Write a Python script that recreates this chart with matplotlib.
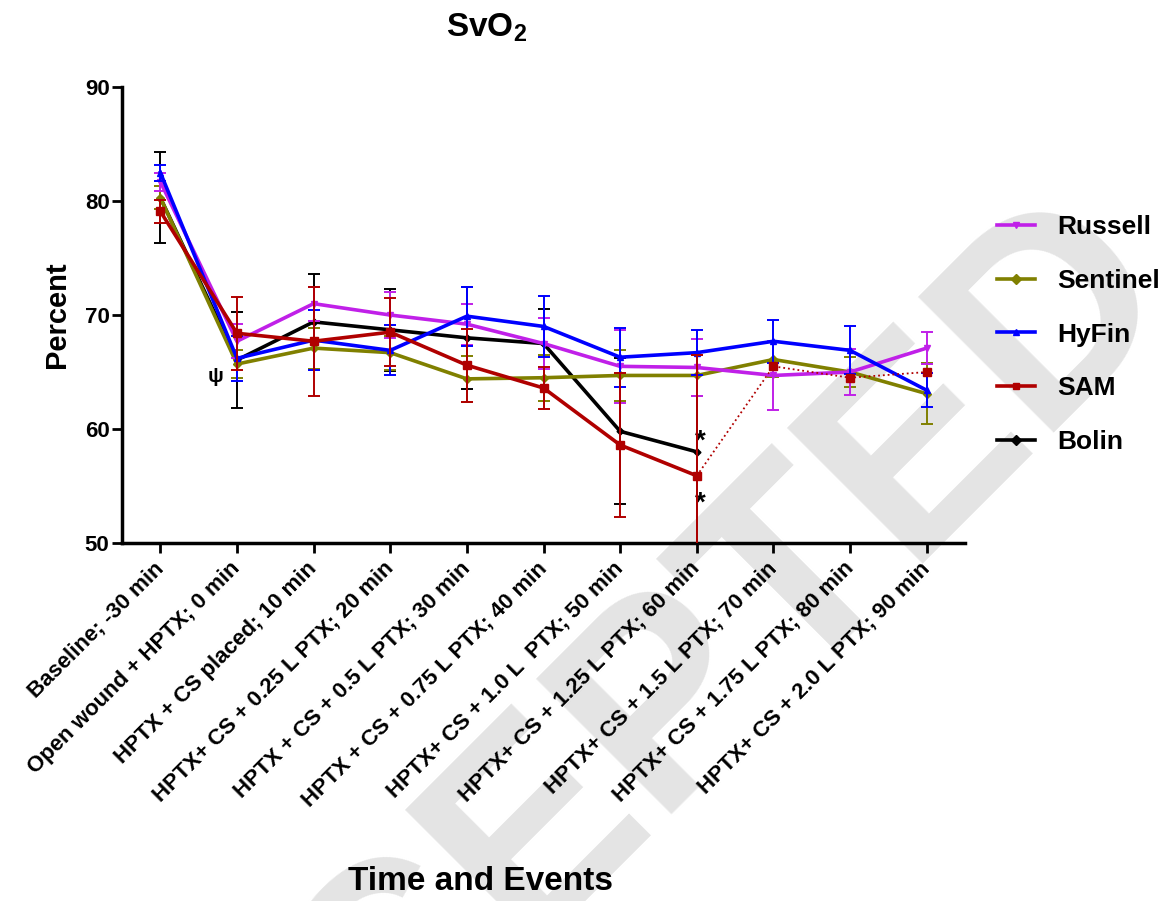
import matplotlib.pyplot as plt
from matplotlib.lines import Line2D
import numpy as np

plt.rcParams['font.family'] = ['Liberation Sans', 'DejaVu Sans']
plt.rcParams['mathtext.default'] = 'regular'

# Time points / events
events = ['Baseline; -30 min', 'Open wound + HPTX; 0 min', 'HPTX + CS placed; 10 min',
          'HPTX+ CS + 0.25 L PTX; 20 min', 'HPTX + CS + 0.5 L PTX; 30 min',
          'HPTX + CS + 0.75 L PTX; 40 min', 'HPTX+ CS + 1.0 L  PTX; 50 min',
          'HPTX+ CS + 1.25 L PTX; 60 min', 'HPTX+ CS + 1.5 L PTX; 70 min',
          'HPTX+ CS + 1.75 L PTX; 80 min', 'HPTX+ CS + 2.0 L PTX; 90 min']

# SvO2 means and error bars
russell = [81.7, 67.7, 71.0, 70.0, 69.2, 67.5, 65.5, 65.4, 64.7, 65.0, 67.1]
russell_err = [0.8, 1.5, 1.5, 2.0, 1.8, 2.2, 3.2, 2.5, 3.0, 2.0, 1.4]
sentinel = [80.3, 65.7, 67.1, 66.7, 64.4, 64.5, 64.7, 64.7, 66.1, 65.0, 63.1]
sentinel_err = [1.0, 1.2, 1.8, 1.5, 2.0, 2.0, 2.2, 1.8, 1.5, 1.3, 2.7]
hyfin = [82.5, 66.2, 67.8, 66.9, 69.9, 69.0, 66.3, 66.7, 67.7, 66.9, 63.4]
hyfin_err = [0.7, 2.0, 2.6, 2.2, 2.6, 2.7, 2.6, 2.0, 1.9, 2.1, 1.5]
sam = [79.1, 68.4, 67.7, 68.5, 65.6, 63.6, 58.6, 55.9, 65.5, 64.5, 65.0]
sam_err = [1.0, 3.2, 4.8, 3.0, 3.2, 1.8, 6.3, 10.6, 0, 0, 0]
bolin = [80.3, 66.05, 69.4, 68.7, 68.0, 67.5, 59.8, 58.0]
bolin_err = [4.0, 4.2, 4.2, 3.6, 4.5, 3.0, 6.4, 8.5]

colors = {'Russell': '#c020e8', 'Sentinel': '#808000', 'HyFin': '#0000ff',
          'SAM': '#b00000', 'Bolin': 'black'}
markers = {'Russell': 'v', 'Sentinel': 'D', 'HyFin': '^', 'SAM': 's', 'Bolin': 'D'}

x = np.arange(len(events))

fig = plt.figure(figsize=(11.72, 9.01), dpi=100)
ax = fig.add_axes([0.1041, 0.3973, 0.7193, 0.5061])
ax.set_facecolor('none')

# watermark behind everything
fig.text(1.008, 0.668, 'ACCEPTED', fontsize=200, fontweight='bold', color='#e4e4e4',
         rotation=45, rotation_mode='anchor', ha='right', va='baseline', zorder=-10)

lw = 2.6
ekw = dict(elinewidth=1.4, capsize=4, capthick=1.4)

ax.errorbar(x[:len(bolin)], bolin, yerr=bolin_err, color=colors['Bolin'], marker='D', ms=3.5,
            lw=lw, zorder=3, **ekw)
ax.errorbar(x, sentinel, yerr=sentinel_err, color=colors['Sentinel'], marker='D', ms=4,
            lw=lw, zorder=4, **ekw)
ax.errorbar(x, russell, yerr=russell_err, color=colors['Russell'], marker='v', ms=5,
            lw=lw, zorder=5, **ekw)
ax.errorbar(x, hyfin, yerr=hyfin_err, color=colors['HyFin'], marker='^', ms=5,
            lw=lw, zorder=6, **ekw)
# SAM: solid to 60 min, dotted afterwards
ax.errorbar(x[:8], sam[:8], yerr=sam_err[:8], color=colors['SAM'], marker='s', ms=6,
            lw=lw, zorder=7, **ekw)
ax.plot(x[7:], sam[7:], color=colors['SAM'], ls=':', lw=1.3, zorder=7)
ax.plot(x[8:], sam[8:], color=colors['SAM'], marker='s', ms=6, ls='none', zorder=7)

# significance markers
ax.text(0.72, 64.6, '\u03c8', fontsize=15, fontweight='bold', ha='center', va='center')
ax.text(7.05, 58.9, '*', fontsize=20, fontweight='bold', ha='center', va='center')
ax.text(7.05, 53.5, '*', fontsize=20, fontweight='bold', ha='center', va='center')

ax.set_xlim(-0.5, 10.5)
ax.set_ylim(50, 90)
ax.set_yticks([50, 60, 70, 80, 90])
ax.set_xticks(x)
ax.set_xticklabels(events, rotation=45, ha='right', va='center', rotation_mode='anchor',
                   fontsize=16, fontweight='bold')
for lab in ax.get_yticklabels():
    lab.set_fontsize(16)
    lab.set_fontweight('bold')
ax.tick_params(axis='both', width=2, length=7, direction='out')
ax.tick_params(axis='x', pad=9)
ax.tick_params(axis='y', pad=2)
for s in ['top', 'right']:
    ax.spines[s].set_visible(False)
for s in ['left', 'bottom']:
    ax.spines[s].set_linewidth(2.5)

fig.text(487 / 1172, 1 - 28 / 901, 'SvO$_2$', fontsize=24, fontweight='bold',
         ha='center', va='center')
fig.text(57 / 1172, 1 - 315 / 901, 'Percent', fontsize=21, fontweight='bold',
         rotation=90, ha='center', va='center')
fig.text(480 / 1172, 1 - 881 / 901, 'Time and Events', fontsize=24, fontweight='bold',
         ha='center', va='center')

order = ['Russell', 'Sentinel', 'HyFin', 'SAM', 'Bolin']
handles = [Line2D([], [], color=colors[k], lw=2.6, marker=markers[k], ms=5) for k in order]
fig.legend(handles, order, loc='upper left',
           bbox_to_anchor=(997 / 1172, 1 - 215 / 901), frameon=False, handlelength=1.45,
           handletextpad=0.85, labelspacing=1.13, borderpad=0, borderaxespad=0,
           prop={'weight': 'bold', 'size': 19})

fig.savefig('out.png', dpi=100)
